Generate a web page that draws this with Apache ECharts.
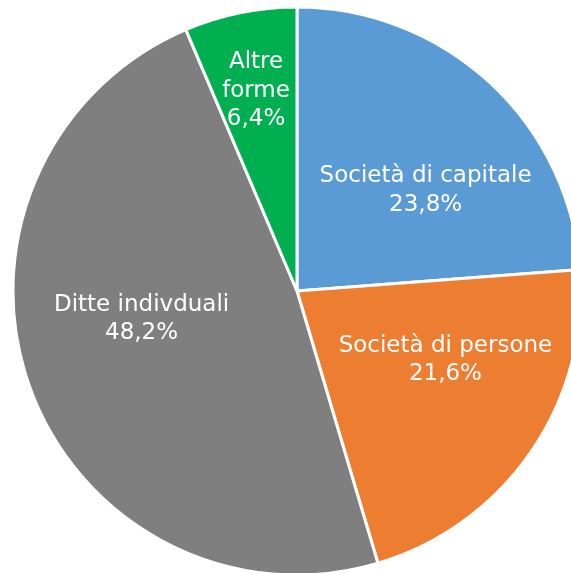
<!DOCTYPE html>
<html>
<head>
<meta charset="utf-8">
<script src="https://cdn.jsdelivr.net/npm/echarts@6/dist/echarts.min.js"></script>
<style>
  html, body { margin: 0; padding: 0; background: #fff; }
  #chart { width: 571px; height: 573px; }
</style>
</head>
<body>
<div id="chart"></div>
<script>
// categories and shares (%), clockwise from 12 o'clock
const categories = ['Società di capitale', 'Società di persone', 'Ditte indivduali', 'Altre forme']
const shares = [23.8, 21.6, 48.2, 6.4]
const colors = ['#5B9BD5', '#ED7D31', '#7F7F7F', '#00B050']
// nudges to put labels where the original has them
const labelOffsets = [[30, 6], [29, -13], [-19, -21], [-12, -58]]

const myChart = echarts.init(document.getElementById('chart'))

myChart.setOption({
  animation: false,
  series: [
    {
      type: 'pie',
      center: [297, 291],
      radius: 284,
      startAngle: 90,
      clockwise: true,
      data: categories.map((name, i) => ({
        name: name,
        value: shares[i],
        itemStyle: { color: colors[i] },
        label: { offset: labelOffsets[i] }
      })),
      itemStyle: {
        borderColor: '#fff',
        borderWidth: 3
      },
      label: {
        position: 'inside',
        color: '#fff',
        fontFamily: 'DejaVu Sans',
        fontSize: 23,
        lineHeight: 28.5,
        align: 'center',
        formatter: p => {
          const name = p.name === 'Altre forme' ? 'Altre\nforme' : p.name
          return name + '\n' + p.value.toFixed(1).replace('.', ',') + '%'
        }
      },
      labelLine: { show: false },
      emphasis: { disabled: true }
    }
  ]
})
</script>
</body>
</html>
